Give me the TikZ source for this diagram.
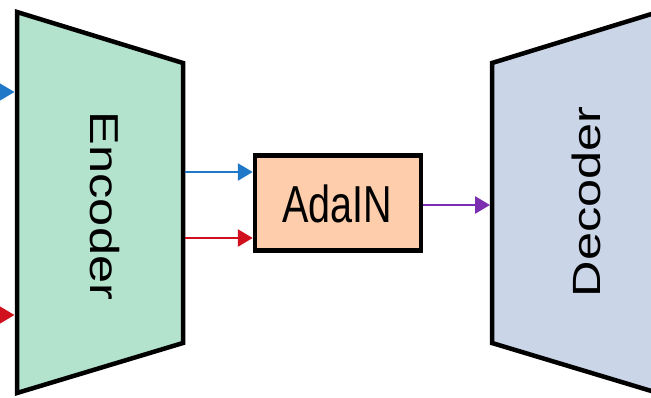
\documentclass[tikz,border=0pt]{standalone}
\usepackage{fontspec}
\setmainfont{Liberation Sans}
\usetikzlibrary{arrows.meta}
\definecolor{encfill}{HTML}{B3E2CD}
\definecolor{decfill}{HTML}{CBD5E8}
\definecolor{adafill}{HTML}{FDCDAC}
\definecolor{cblue}{HTML}{1F78C8}
\definecolor{cred}{HTML}{D0101C}
\definecolor{cpurple}{HTML}{7B2FB0}
\tikzset{
  block/.style={draw=black, line width=4.5pt, line join=miter},
  conn/.style={line width=2.8pt, -{Triangle[length=15pt,width=17pt]}},
  lbl/.style={font=\fontsize{50.5}{50.5}\selectfont, inner sep=0pt}
}
\begin{document}
\begin{tikzpicture}[x=1pt,y=-1pt]
\useasboundingbox (0,0) rectangle (651,397);
% Encoder
\coordinate (e1) at (17,12);
\coordinate (e2) at (183,63);
\coordinate (e3) at (183,343);
\coordinate (e4) at (17,393);
\filldraw[block, fill=encfill] (e1) -- (e2) -- (e3) -- (e4) -- cycle;
\node[lbl, rotate=-90] (enc) at (105,206) {\scalebox{1}[0.8]{Encoder}};
% Decoder
\coordinate (d1) at (492,63);
\coordinate (d2) at (658,12);
\coordinate (d3) at (658,393);
\coordinate (d4) at (492,343);
\filldraw[block, fill=decfill] (d1) -- (d2) -- (d3) -- (d4) -- cycle;
\node[lbl, rotate=90] (dec) at (586,202) {\scalebox{1}[0.78]{Decoder}};
% AdaIN
\node[block, fill=adafill, minimum width=166pt, minimum height=95pt, inner sep=0pt] (ada) at (338,203) {};
\node[inner sep=0pt, font=\fontsize{52}{52}\selectfont] (adalbl) at (337.5,204) {\scalebox{0.76}[1]{AdaIN}};
% incoming arrows
\coordinate (inb) at (-30,92);
\coordinate (inbE) at (14.5,92);
\coordinate (inr) at (-30,315);
\coordinate (inrE) at (14.5,315);
\draw[conn, cblue] (inb) -- (inbE);
\draw[conn, cred] (inr) -- (inrE);
% encoder to AdaIN
\coordinate (eb) at (185,172);
\coordinate (er) at (185,238);
\draw[conn, cblue] (eb) -- (eb -| ada.west);
\draw[conn, cred] (er) -- (er -| ada.west);
% AdaIN to decoder
\coordinate (dp) at (490,205);
\draw[conn, cpurple] (ada.east |- dp) -- (dp);
\end{tikzpicture}
\end{document}
